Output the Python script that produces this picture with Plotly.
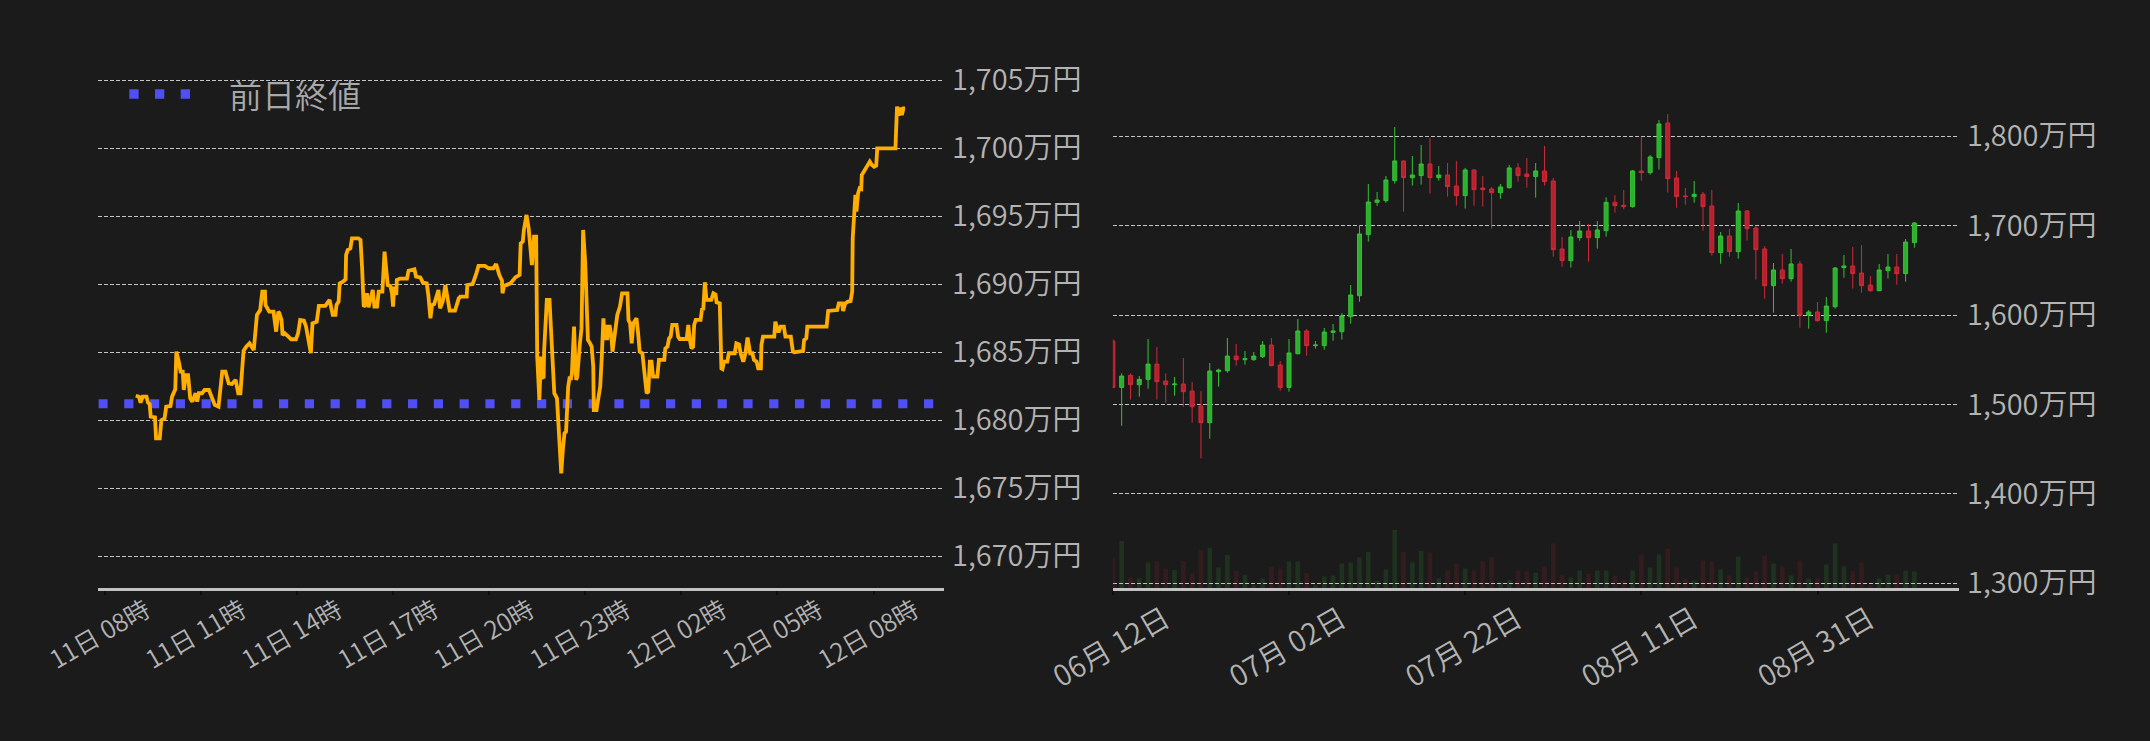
import pandas as pd
import plotly.graph_objects as go

# ---------------- left chart: last 24h price (万円) ----------------
# minutes after 2025-09-11 00:00
line_minutes = [
    538, 544, 547, 551, 558, 561, 564, 566, 574, 576, 583, 586, 592, 595, 603, 606, 612, 614, 619, 622,
    626, 628, 632, 636, 640, 644, 650, 653, 656, 662, 667, 675, 680, 686, 693, 698, 700, 706, 709, 712,
    718, 725, 730, 734, 737, 740, 745, 751, 759, 762, 765, 771, 775, 780, 781, 788, 796, 801, 805, 807,
    811, 813, 817, 824, 829, 838, 842, 846, 853, 857, 862, 866, 869, 874, 877, 881, 893, 901, 904, 907,
    912, 914, 918, 920, 926, 931, 932, 935, 940, 943, 955, 959, 962, 965, 968, 971, 974, 979, 982, 985,
    990, 993, 1000, 1004, 1007, 1010,
    1015, 1018, 1020, 1022, 1026, 1027, 1033, 1046, 1049, 1060, 1063, 1071, 1076, 1083, 1086, 1090, 1093,
    1097, 1105, 1108, 1113, 1118, 1121, 1126, 1136, 1143, 1146, 1158, 1159, 1169, 1176, 1180, 1192, 1199,
    1208, 1213, 1216, 1219, 1224, 1225, 1228, 1233, 1240, 1249, 1257, 1259, 1263, 1265, 1270, 1274, 1277,
    1280, 1283, 1284, 1288, 1289, 1290, 1294, 1297, 1299, 1302, 1303, 1308, 1313, 1315, 1319, 1322, 1327,
    1330, 1333, 1335, 1338, 1341, 1344, 1345, 1348, 1351, 1353, 1355, 1356, 1359, 1361, 1363, 1365, 1367,
    1370, 1373, 1376, 1380, 1383, 1385, 1389, 1392, 1395, 1396, 1401, 1404, 1408, 1411, 1414, 1416, 1419,
    1421, 1424, 1426, 1429, 1431, 1434, 1438, 1440, 1445, 1449, 1459, 1461, 1464, 1467, 1470, 1473, 1476,
    1479, 1482, 1487, 1492, 1495, 1498, 1501, 1504, 1507,
    1510, 1515, 1518, 1528, 1530, 1534, 1537, 1540, 1543, 1551, 1554, 1557, 1570, 1573, 1576, 1579, 1582,
    1584, 1587, 1596, 1599, 1601, 1604, 1607, 1616, 1620, 1624, 1626, 1632, 1635, 1637, 1640, 1646, 1649,
    1660, 1663, 1668, 1671, 1676, 1680, 1684, 1687, 1689, 1693, 1696, 1701, 1704, 1709, 1710, 1713, 1734,
    1736, 1740, 1742, 1746, 1752, 1755, 1765, 1769, 1772, 1788, 1790, 1794, 1796, 1832, 1835, 1852, 1855,
    1861, 1863, 1867, 1872, 1877, 1880, 1881, 1885, 1886, 1888, 1891, 1894, 1897, 1898, 1902, 1906, 1913,
    1917, 1921, 1925, 1927, 1961, 1962, 1964, 1967, 1970, 1973, 1976, 1979,
]
line_values = [
    1681.81, 1681.74, 1681.30, 1681.74, 1681.74, 1681.30, 1681.20, 1680.27, 1680.22, 1678.68, 1678.68,
    1680.02, 1680.15, 1681.00, 1681.05, 1681.74, 1682.28, 1685.05, 1684.24, 1683.58, 1683.58, 1682.23,
    1683.33, 1683.33, 1681.62, 1681.37, 1681.99, 1681.37, 1681.99, 1681.99, 1682.23, 1682.23, 1681.74,
    1681.13, 1681.00, 1682.72, 1683.58, 1683.58, 1682.97, 1682.72, 1682.67, 1682.97, 1681.99, 1681.99,
    1683.58, 1685.12, 1685.42, 1685.66, 1685.17, 1686.52, 1687.75, 1688.11, 1689.46, 1689.46, 1688.48,
    1687.99, 1687.99, 1686.52, 1687.99, 1687.87, 1687.38, 1686.27, 1686.40, 1686.15, 1685.96, 1685.96,
    1686.40, 1687.38, 1687.33, 1686.89, 1685.66, 1684.93, 1687.13, 1687.25, 1687.25, 1688.41, 1688.41,
    1688.85, 1688.41, 1687.75, 1687.75, 1688.48, 1688.73, 1690.07, 1690.20, 1690.37, 1692.16, 1692.52,
    1692.65, 1693.38, 1693.38, 1693.26, 1691.18, 1688.36, 1688.48, 1689.34, 1688.31, 1689.09, 1689.58,
    1688.36, 1688.36, 1689.46, 1689.46, 1692.40, 1691.30, 1689.95,
    1689.88, 1689.34, 1688.36, 1689.83, 1689.22, 1690.32, 1690.42, 1690.42, 1691.00, 1691.10, 1690.56,
    1690.51, 1690.12, 1690.07, 1689.22, 1687.50, 1688.48, 1688.55, 1689.58, 1688.24, 1688.73, 1689.95,
    1689.22, 1688.06, 1688.06, 1688.97, 1689.09, 1689.09, 1689.95, 1690.02, 1690.81, 1691.35, 1691.35,
    1691.18, 1691.18, 1691.50, 1691.10, 1690.69, 1690.27, 1689.34, 1689.88, 1689.95, 1690.07, 1690.51,
    1690.69, 1693.01, 1693.14, 1694.00, 1695.10, 1694.12, 1692.52, 1691.42, 1692.89, 1693.50, 1693.50,
    1688.85, 1684.68, 1681.50, 1684.68, 1683.21, 1683.09, 1685.17, 1688.85, 1688.85, 1687.38, 1684.93,
    1681.99, 1681.62, 1679.53, 1677.08, 1676.10, 1677.82, 1679.04, 1679.17, 1680.02, 1682.48, 1683.21,
    1682.97, 1683.46, 1684.44, 1686.89, 1684.68, 1682.97, 1683.21, 1684.68, 1685.66, 1686.76, 1694.00,
    1691.54, 1688.85, 1685.91, 1685.66, 1685.42, 1683.95, 1680.76, 1680.76, 1681.74, 1682.48, 1684.68,
    1687.50, 1685.91, 1687.01, 1685.91, 1686.89, 1686.89, 1686.15, 1685.05, 1686.15, 1687.13, 1687.75,
    1688.36, 1689.34, 1689.34, 1687.38, 1687.13, 1685.66, 1687.13, 1687.38, 1687.50, 1686.40, 1685.05,
    1684.93, 1683.21, 1681.99, 1682.11, 1684.31, 1684.31, 1683.21,
    1683.21, 1683.21, 1684.44, 1684.44, 1685.29, 1685.42, 1686.03, 1686.15, 1687.01, 1687.01, 1686.15,
    1685.98, 1685.98, 1687.01, 1685.91, 1685.29, 1685.42, 1687.01, 1687.38, 1687.38, 1688.24, 1688.11,
    1690.15, 1688.85, 1688.85, 1689.34, 1689.26, 1688.68, 1688.60, 1683.82, 1683.77, 1684.31, 1684.31,
    1684.93, 1684.93, 1685.66, 1685.59, 1684.93, 1684.31, 1684.93, 1686.08, 1685.29, 1684.93, 1684.93,
    1684.44, 1684.31, 1683.82, 1683.82, 1685.54, 1686.15, 1686.15, 1687.25, 1686.76, 1686.47, 1686.89,
    1686.89, 1686.15, 1686.15, 1685.05, 1685.00, 1685.10, 1685.91, 1686.03, 1686.89, 1686.89, 1688.04,
    1688.11, 1688.60, 1688.60, 1688.04, 1688.60, 1688.73, 1688.77, 1689.46, 1693.38, 1695.34, 1696.57,
    1695.34, 1696.69, 1697.06, 1697.01, 1698.04, 1698.33, 1698.65, 1699.02, 1698.77, 1698.65, 1698.73,
    1700.00, 1700.00, 1702.40, 1703.06, 1702.40, 1703.00, 1702.45, 1702.94, 1702.94,
]
prev_close = 1681.22
left_x_range = ["2025-09-11 07:48", "2025-09-12 10:12"]
left_y_ticks = [1670, 1675, 1680, 1685, 1690, 1695, 1700, 1705]
legend_label = "前日終値"
price_unit = "万円"

# ---------------- right chart: daily candles (万円) ----------------
candle_dates = pd.date_range("2025-06-12", periods=92, freq="D")
opens = [
    1570.9, 1519.0, 1532.5, 1522.0, 1528.0, 1545.1, 1526.1, 1522.0, 1522.8, 1514.9,
    1498.1, 1479.5, 1536.6, 1537.7, 1554.1, 1550.0, 1550.0, 1553.4, 1566.4, 1544.0,
    1519.0, 1556.7, 1582.1, 1565.7, 1565.7, 1580.6, 1581.3, 1598.1, 1621.6, 1689.9,
    1726.1, 1728.0, 1750.4, 1772.4, 1753.7, 1756.0, 1769.0, 1753.7, 1756.7, 1744.4,
    1733.6, 1762.3, 1742.2, 1741.0, 1736.9, 1742.5, 1764.6, 1757.8, 1754.9, 1761.2,
    1750.0, 1673.9, 1660.8, 1686.6, 1694.0, 1686.6, 1694.4, 1726.1, 1722.8, 1721.3,
    1761.2, 1759.3, 1776.1, 1814.9, 1753.4, 1733.2, 1732.5, 1735.1, 1722.0, 1669.8,
    1688.4, 1670.9, 1716.4, 1697.4, 1673.9, 1632.8, 1650.4, 1640.7, 1657.1, 1600.0,
    1603.4, 1593.7, 1609.3, 1653.0, 1654.9, 1647.0, 1633.6, 1627.2, 1649.6, 1653.7,
    1646.3, 1681.0,
]
highs = [
    1573.1, 1534.7, 1534.7, 1531.7, 1573.1, 1564.2, 1534.7, 1530.6, 1551.9, 1525.0,
    1514.9, 1546.3, 1539.9, 1574.3, 1567.5, 1559.7, 1558.6, 1570.9, 1574.3, 1548.5,
    1573.1, 1595.5, 1584.3, 1570.9, 1585.4, 1589.9, 1602.2, 1633.6, 1700.4, 1746.6,
    1737.7, 1755.6, 1810.4, 1773.0, 1778.0, 1790.3, 1798.1, 1766.8, 1770.1, 1772.4,
    1764.6, 1763.0, 1755.6, 1743.3, 1746.6, 1767.9, 1770.1, 1775.7, 1770.1, 1789.2,
    1753.4, 1687.3, 1695.1, 1705.2, 1701.9, 1705.2, 1731.7, 1734.0, 1739.9, 1762.3,
    1799.6, 1779.1, 1818.3, 1825.0, 1761.2, 1742.2, 1750.0, 1737.7, 1739.9, 1692.9,
    1696.3, 1725.4, 1717.5, 1700.0, 1677.2, 1658.2, 1668.3, 1673.9, 1660.4, 1605.6,
    1614.6, 1620.1, 1653.7, 1667.2, 1676.1, 1678.4, 1643.7, 1657.1, 1668.3, 1668.3,
    1685.1, 1704.1,
]
lows = [
    1518.0, 1476.1, 1505.6, 1508.6, 1517.5, 1505.6, 1501.9, 1509.7, 1497.4, 1479.5,
    1439.6, 1461.6, 1519.8, 1535.4, 1543.3, 1544.4, 1548.9, 1551.9, 1542.5, 1515.3,
    1514.2, 1556.0, 1554.5, 1562.3, 1561.2, 1571.3, 1572.4, 1590.3, 1614.9, 1682.1,
    1722.0, 1725.7, 1747.0, 1715.7, 1744.8, 1745.9, 1735.8, 1750.4, 1732.5, 1722.4,
    1719.0, 1722.4, 1721.3, 1696.6, 1730.2, 1741.4, 1749.3, 1742.5, 1731.3, 1744.8,
    1665.3, 1654.1, 1653.0, 1683.2, 1659.7, 1674.3, 1687.7, 1714.6, 1718.3, 1720.1,
    1750.4, 1757.1, 1762.7, 1736.9, 1720.1, 1723.5, 1725.7, 1694.4, 1666.4, 1657.5,
    1665.3, 1663.1, 1683.2, 1639.6, 1618.3, 1602.6, 1635.1, 1637.3, 1585.8, 1584.7,
    1592.5, 1580.2, 1607.1, 1641.8, 1629.5, 1625.0, 1626.1, 1626.8, 1640.7, 1634.0,
    1637.3, 1675.4,
]
closes = [
    1519.0, 1531.7, 1522.0, 1528.0, 1545.1, 1525.4, 1522.0, 1522.8, 1514.2, 1497.4,
    1479.5, 1537.3, 1538.4, 1554.1, 1550.0, 1551.1, 1554.1, 1566.4, 1543.3, 1519.0,
    1557.5, 1582.1, 1565.7, 1566.4, 1581.0, 1582.1, 1598.9, 1622.4, 1690.7, 1726.5,
    1728.7, 1751.1, 1772.4, 1753.7, 1756.7, 1769.0, 1753.7, 1756.7, 1743.7, 1733.6,
    1762.3, 1740.3, 1740.3, 1736.9, 1743.3, 1764.6, 1756.0, 1754.9, 1761.2, 1749.3,
    1673.1, 1660.8, 1687.3, 1694.0, 1686.6, 1695.1, 1726.1, 1722.4, 1721.3, 1761.2,
    1759.3, 1776.9, 1813.8, 1752.6, 1732.5, 1732.5, 1735.1, 1721.3, 1669.8, 1688.4,
    1670.9, 1716.4, 1696.6, 1673.1, 1632.8, 1650.4, 1640.7, 1657.1, 1600.0, 1603.4,
    1593.7, 1610.1, 1652.6, 1654.9, 1646.3, 1632.8, 1627.2, 1650.4, 1653.7, 1646.3,
    1681.7, 1703.0,
]
volumes = [
    30.7, 47.3, 10.7, 9.7, 25.7, 26.7, 19.7, 18.3, 27.3, 14.7,
    38.3, 40.3, 20.7, 33.3, 17.3, 13.3, 3.0, 9.7, 21.3, 19.7,
    26.7, 26.7, 15.3, 3.0, 11.7, 12.7, 24.7, 25.7, 30.7, 36.3,
    7.3, 18.7, 58.3, 36.3, 25.7, 37.3, 35.7, 9.7, 17.7, 24.7,
    19.7, 17.7, 26.7, 31.3, 5.7, 8.3, 17.7, 16.7, 15.7, 21.7,
    44.7, 13.3, 10.7, 17.7, 14.3, 17.7, 17.7, 12.3, 8.3, 17.7,
    33.7, 20.7, 33.7, 39.7, 20.7, 9.7, 7.7, 27.7, 26.7, 18.7,
    12.7, 31.7, 10.7, 16.7, 32.7, 24.7, 21.7, 12.7, 27.7, 9.7,
    9.7, 23.7, 44.7, 21.7, 16.7, 25.7, 3.0, 9.7, 13.7, 13.7,
    17.7, 16.7,
]
right_x_range = ["2025-06-11 23:50", "2025-09-16 01:30"]
right_y_ticks = [1300, 1400, 1500, 1600, 1700, 1800]

# ---------------- styling ----------------
BG = "#1b1b1b"
ORANGE = "#FFAE00"
BLUE = "#4F4FF5"
TXT = "#b3b3b3"
GRID = "#c4c4c4"
AXIS = "#c2c2c2"
UP_LINE, UP_FILL = "#35C235", "#2DB02D"
DN_LINE, DN_FILL = "#CF2A37", "#B5222E"
VOL_UP, VOL_DN = "rgba(60,200,60,0.13)", "rgba(220,40,55,0.13)"
FONT = "Noto Sans CJK JP"
WEIGHT = 350

W, H = 2150, 741
line_times = pd.Timestamp("2025-09-11 00:00") + pd.to_timedelta(line_minutes, unit="m")
vol_colors = [VOL_UP if c >= o else VOL_DN for o, c in zip(opens, closes)]
left_y_text = [f"{v:,}{price_unit}" for v in left_y_ticks]
right_y_text = [f"{v:,}{price_unit}" for v in right_y_ticks]

fig = go.Figure()
fig.add_trace(go.Scatter(
    x=left_x_range, y=[prev_close, prev_close], mode="lines", name=legend_label,
    line=dict(color=BLUE, width=9.2, dash="9.2px,16.6px"), xaxis="x", yaxis="y",
    hoverinfo="skip"))
fig.add_trace(go.Scatter(
    x=line_times, y=line_values, mode="lines", name="価格",
    line=dict(color=ORANGE, width=3.8), xaxis="x", yaxis="y"))
fig.add_trace(go.Bar(
    x=candle_dates, y=volumes, marker=dict(color=vol_colors, line=dict(width=0)),
    width=0.53 * 86400000, xaxis="x2", yaxis="y3", name="出来高"))
fig.add_trace(go.Candlestick(
    x=candle_dates, open=opens, high=highs, low=lows, close=closes,
    increasing=dict(line=dict(color=UP_LINE, width=1), fillcolor=UP_FILL),
    decreasing=dict(line=dict(color=DN_LINE, width=1), fillcolor=DN_FILL),
    whiskerwidth=0, xaxis="x2", yaxis="y2", name="日足"))

y_bottom = 1 - 588.3 / H
common_y = dict(showgrid=True, gridcolor=GRID, gridwidth=1, griddash="4px,2px",
                zeroline=False, showline=False, ticks="", side="right", automargin=False,
                tickfont=dict(size=29, color=TXT, weight=WEIGHT), ticklabelstandoff=7)
common_x = dict(type="date", showgrid=False, zeroline=False, showline=True, automargin=False,
                linecolor=AXIS, linewidth=2.5, ticks="outside", ticklen=4,
                tickcolor="#0c0c0c", tickwidth=1.5, tickangle=-30)

fig.update_layout(
    width=W, height=H, margin=dict(l=0, r=0, t=0, b=0, autoexpand=False),
    paper_bgcolor=BG, plot_bgcolor=BG, showlegend=False, boxgap=0.35,
    font=dict(family=FONT, color=TXT),
    xaxis=dict(domain=[98.4 / W, 944 / W], anchor="y", range=left_x_range,
               tick0="2025-09-11 08:00", dtick=3 * 3600 * 1000, tickformat="%d日 %H時",
               tickfont=dict(size=25, color=TXT, weight=WEIGHT), ticklabelshift=41,
               ticklabelstandoff=-9, **common_x),
    yaxis=dict(domain=[y_bottom, 1 - 46.3 / H], anchor="x", range=[1667.65, 1707.5],
               tickmode="array", tickvals=left_y_ticks, ticktext=left_y_text, **common_y),
    xaxis2=dict(domain=[1112.8 / W, 1959 / W], anchor="y2", range=right_x_range,
                tick0="2025-06-12", dtick=20 * 86400000, tickformat="%m月 %d日",
                tickfont=dict(size=29, color=TXT, weight=WEIGHT), ticklabelshift=52,
                ticklabelstandoff=-4, rangeslider=dict(visible=False), **common_x),
    yaxis2=dict(domain=[y_bottom, 1 - 91.6 / H], anchor="x2", range=[1294.2, 1850],
                tickmode="array", tickvals=right_y_ticks, ticktext=right_y_text, **common_y),
    yaxis3=dict(overlaying="y2", anchor="x2", range=[0, 496.7], visible=False,
                showgrid=False, zeroline=False, automargin=False),
)

# legend (drawn in the reference's top-left corner)
fig.add_shape(type="line", xref="paper", yref="paper",
              x0=129.3 / W, x1=190.5 / W, y0=1 - 94 / H, y1=1 - 94 / H,
              line=dict(color=BLUE, width=9.3, dash="9.3px,16.4px"))
fig.add_annotation(text=legend_label, xref="paper", yref="paper",
                   x=227 / W, y=1 - 93.5 / H, xanchor="left", yanchor="middle",
                   showarrow=False, font=dict(size=33, color="#a9a9a9", family=FONT, weight=WEIGHT))

fig.write_html("out.html", config={"displayModeBar": False},
               post_script="document.body.style.margin='0px';")
